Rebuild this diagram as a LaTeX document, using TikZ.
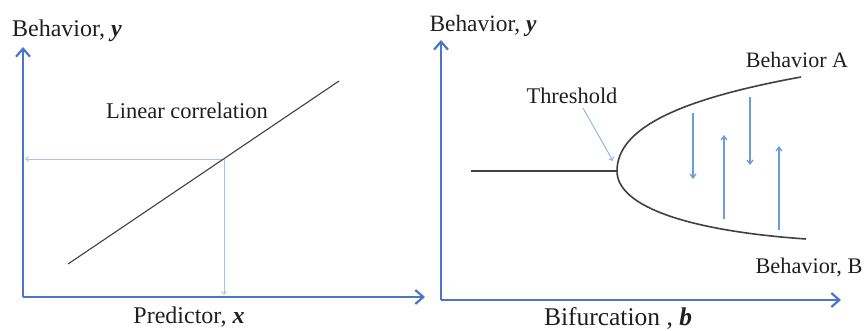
\documentclass[tikz,border=0pt]{standalone}
\usepackage{fontspec}
\setmainfont{Liberation Serif}
\usetikzlibrary{arrows.meta}
\definecolor{axisblue}{HTML}{4A76C4}
\definecolor{guideblue}{HTML}{A9C4EB}
\definecolor{arrblue}{HTML}{6C9DD9}
\definecolor{curvegray}{HTML}{404040}
\tikzset{
  axis/.style={draw=axisblue,line width=2.8pt,-{Straight Barb[length=8pt,width=14pt,line width=2.2pt]}},
  guide/.style={draw=guideblue,line width=0.9pt,-{Straight Barb[length=3pt,width=5pt]}},
  varrow/.style={draw=arrblue,line width=1.3pt,-{Straight Barb[length=4pt,width=6pt]}},
  curve/.style={draw=curvegray,line width=1.6pt},
  lbl/.style={inner sep=0pt,anchor=base,text=black!88}
}
\newcommand{\fs}[1]{\fontsize{#1}{#1}\selectfont}
\begin{document}
\begin{tikzpicture}[x=1pt,y=-1pt]
\useasboundingbox (0,0) rectangle (864,331);
% left panel
\coordinate (o1) at (23,297);
\coordinate (y1) at (23,47);
\coordinate (x1) at (425,297);
\draw[axis] (o1) -- (y1);
\draw[axis] (o1) -- (x1);
\coordinate (l1) at (68,264);
\coordinate (l2) at (339,81);
\coordinate (p) at (224,159);
\coordinate (py) at (25,159);
\coordinate (px) at (224,295);
\draw[guide] (p) -- (py);
\draw[guide] (p) -- (px);
\draw[curve,line width=1.1pt] (l1) -- (l2);
\node[lbl] (by1) at (67,37) {\fs{24}Behavior, \textbf{\textit{y}}};
\node[lbl] (lc) at (187,119) {\fs{22.5}Linear correlation};
\node[lbl] (pr) at (189,323) {\fs{24}Predictor, \textbf{\textit{x}}};
% right panel
\coordinate (o2) at (441,300);
\coordinate (y2) at (441,40);
\coordinate (x2) at (841,300);
\draw[axis] (o2) -- (y2);
\draw[axis] (o2) -- (x2);
\coordinate (s0) at (471,171);
\coordinate (v) at (617,171);
\coordinate (ua) at (801,77);
\coordinate (lb) at (806,239);
\draw[curve] (s0) -- (v);
\draw[curve] (ua) .. controls (680,99) and (617,128) .. (v)
                  .. controls (617,207) and (690,231) .. (lb);
\coordinate (t1) at (583,108);
\coordinate (t2) at (613,161);
\draw[guide,draw=arrblue!80] (t1) -- (t2);
\coordinate (a1s) at (693,113); \coordinate (a1e) at (693,179);
\coordinate (a2s) at (724,219); \coordinate (a2e) at (724,135);
\coordinate (a3s) at (750,97);  \coordinate (a3e) at (750,165);
\coordinate (a4s) at (779,230); \coordinate (a4e) at (779,146);
\draw[varrow] (a1s) -- (a1e);
\draw[varrow] (a2s) -- (a2e);
\draw[varrow] (a3s) -- (a3e);
\draw[varrow] (a4s) -- (a4e);
\node[lbl] (by2) at (483,32) {\fs{23.4}Behavior, \textbf{\textit{y}}};
\node[lbl] (th) at (572,104) {\fs{22.4}Threshold};
\node[lbl] (ba) at (797,68) {\fs{22}Behavior A};
\node[lbl] (bb) at (809,273) {\fs{22.3}Behavior, B};
\node[lbl] (bf) at (618,325) {\fs{25.5}Bifurcation , \textbf{\textit{b}}};
\end{tikzpicture}
\end{document}
